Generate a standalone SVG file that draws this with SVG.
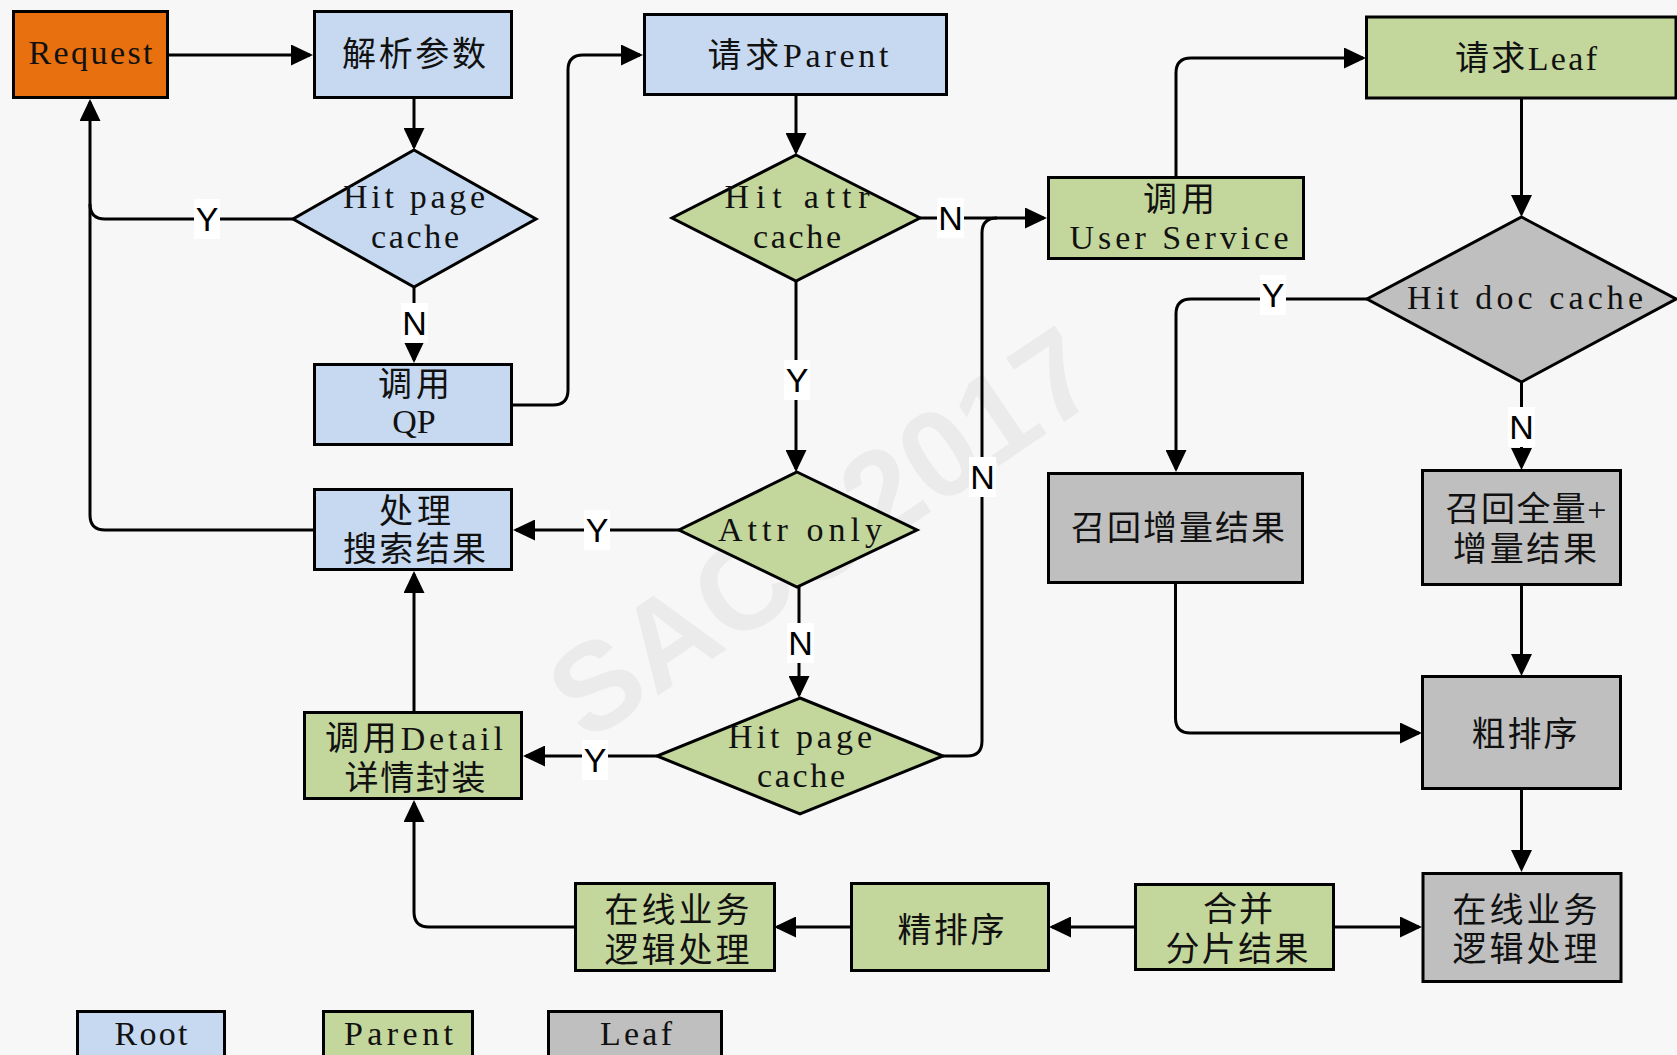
<svg xmlns="http://www.w3.org/2000/svg" width="1677" height="1055" viewBox="0 0 1677 1055">
<style>
.box{stroke:#000;stroke-width:3}
.root{fill:#C6D9F0}
.par{fill:#C3D69B}
.leaf{fill:#BFBFBF}
.req{fill:#E8700E}
.t{font-family:"Liberation Serif","Noto Sans CJK SC",serif;font-size:34px;fill:#111;text-anchor:middle}
.c{fill:none;stroke:#000;stroke-width:3}
.lb{font-family:"Liberation Sans",Arial,sans-serif;font-size:34px;fill:#000;text-anchor:middle}
.lbg{fill:#fff}
.wm{font-family:"Liberation Sans",Arial,sans-serif;font-size:124px;font-weight:bold;fill:#EBEBEB;text-anchor:middle}
</style>
<defs>
<marker id="ah" markerUnits="userSpaceOnUse" markerWidth="22" markerHeight="21" refX="19" refY="10.5" orient="auto"><path d="M0,0 L22,10.5 L0,21 z" fill="#000"/></marker>
</defs>
<rect x="0" y="0" width="1677" height="1055" fill="#F7F7F7"/>
<text class="wm" transform="translate(822,532) rotate(-34)" dy="44">SACC2017</text>

<g id="n-request"><rect class="box req" x="13.5" y="11.5" width="154" height="86"/><text class="t" x="90.5" y="64" textLength="124" lengthAdjust="spacing">Request</text></g>
<g id="n-parse"><rect class="box root" x="314.5" y="11.5" width="197" height="86"/><text class="t" x="414" y="65.5" textLength="144" lengthAdjust="spacing">解析参数</text></g>
<g id="n-hpc1"><polygon class="box root" points="414,150 536,219 414,287 293,219"/><text class="t" x="414" y="208" textLength="142" lengthAdjust="spacing">Hit page</text><text class="t" x="415" y="248" textLength="88" lengthAdjust="spacing">cache</text></g>
<g id="n-qp"><rect class="box root" x="314.5" y="364.5" width="197" height="80"/><text class="t" x="414" y="396" textLength="72" lengthAdjust="spacing">调用</text><text class="t" x="414" y="433">QP</text></g>
<g id="n-result"><rect class="box root" x="314.5" y="489.5" width="197" height="80"/><text class="t" x="415" y="523" textLength="72" lengthAdjust="spacing">处理</text><text class="t" x="414.5" y="561" textLength="143" lengthAdjust="spacing">搜索结果</text></g>
<g id="n-detail"><rect class="box par" x="304.5" y="712.5" width="217" height="86"/><text class="t" x="414" y="750" textLength="178" lengthAdjust="spacing">调用Detail</text><text class="t" x="415" y="790" textLength="141" lengthAdjust="spacing">详情封装</text></g>
<g id="n-parent"><rect class="box root" x="644.5" y="14.5" width="302" height="80"/><text class="t" x="798" y="66.5" textLength="181" lengthAdjust="spacing">请求Parent</text></g>
<g id="n-hac"><polygon class="box par" points="796,155 920,218 796,281 672,218"/><text class="t" x="797" y="208" textLength="145" lengthAdjust="spacing">Hit attr</text><text class="t" x="797" y="248" textLength="88" lengthAdjust="spacing">cache</text></g>
<g id="n-attronly"><polygon class="box par" points="797,472 917,530 797,587 679,530"/><text class="t" x="800" y="541" textLength="164" lengthAdjust="spacing">Attr only</text></g>
<g id="n-hpc2"><polygon class="box par" points="800,698 943,756 800,814 657,756"/><text class="t" x="800" y="748" textLength="144" lengthAdjust="spacing">Hit page</text><text class="t" x="801" y="787" textLength="88" lengthAdjust="spacing">cache</text></g>
<g id="n-usersvc"><rect class="box par" x="1048.5" y="177.5" width="255" height="81"/><text class="t" x="1179" y="211" textLength="72" lengthAdjust="spacing">调用</text><text class="t" x="1179" y="249" textLength="219" lengthAdjust="spacing">User Service</text></g>
<g id="n-leafreq"><rect class="box par" x="1366.5" y="17" width="309.5" height="81"/><text class="t" x="1526" y="69.5" textLength="142" lengthAdjust="spacing">请求Leaf</text></g>
<g id="n-hdc"><polygon class="box leaf" points="1521.5,217 1676,299 1521.5,382 1367,299"/><text class="t" x="1525" y="309" textLength="236" lengthAdjust="spacing">Hit doc cache</text></g>
<g id="n-incr"><rect class="box leaf" x="1048.5" y="473.5" width="254" height="109"/><text class="t" x="1178" y="540" textLength="214" lengthAdjust="spacing">召回增量结果</text></g>
<g id="n-full"><rect class="box leaf" x="1422.5" y="470.5" width="198" height="114"/><text class="t" x="1526" y="521" textLength="161" lengthAdjust="spacing">召回全量+</text><text class="t" x="1525" y="561" textLength="144" lengthAdjust="spacing">增量结果</text></g>
<g id="n-coarse"><rect class="box leaf" x="1422.5" y="676.5" width="198" height="112"/><text class="t" x="1524.5" y="746" textLength="106" lengthAdjust="spacing">粗排序</text></g>
<g id="n-online-leaf"><rect class="box leaf" x="1423" y="873.5" width="198" height="108"/><text class="t" x="1525" y="922" textLength="145" lengthAdjust="spacing">在线业务</text><text class="t" x="1525" y="961" textLength="145" lengthAdjust="spacing">逻辑处理</text></g>
<g id="n-merge"><rect class="box par" x="1135.5" y="884.5" width="198" height="85"/><text class="t" x="1238" y="921" textLength="70" lengthAdjust="spacing">合并</text><text class="t" x="1237" y="961" textLength="143" lengthAdjust="spacing">分片结果</text></g>
<g id="n-fine"><rect class="box par" x="851.5" y="883.5" width="197" height="87"/><text class="t" x="951" y="942" textLength="107" lengthAdjust="spacing">精排序</text></g>
<g id="n-online-parent"><rect class="box par" x="575.5" y="883.5" width="199" height="87"/><text class="t" x="677" y="922" textLength="145" lengthAdjust="spacing">在线业务</text><text class="t" x="677" y="962" textLength="145" lengthAdjust="spacing">逻辑处理</text></g>

<g id="legend-root"><rect class="box root" x="77.5" y="1011.5" width="147" height="50"/><text class="t" x="151" y="1045" textLength="73" lengthAdjust="spacing">Root</text></g>
<g id="legend-parent"><rect class="box par" x="323.5" y="1011.5" width="149" height="50"/><text class="t" x="398.5" y="1045" textLength="109" lengthAdjust="spacing">Parent</text></g>
<g id="legend-leaf"><rect class="box leaf" x="548.5" y="1011.5" width="173" height="50"/><text class="t" x="636" y="1045" textLength="72" lengthAdjust="spacing">Leaf</text></g>

<g id="connectors">
<path class="c" d="M169,55 H310" marker-end="url(#ah)"/>
<path class="c" d="M414,99 V147" marker-end="url(#ah)"/>
<path class="c" d="M293,219 H105 Q90,219 90,204"/>
<path class="c" d="M313,530 H105 Q90,530 90,515 V102" marker-end="url(#ah)"/>
<path class="c" d="M414,287 V360" marker-end="url(#ah)"/>
<path class="c" d="M513,405 H553 Q568,405 568,390 V70 Q568,55 583,55 H640" marker-end="url(#ah)"/>
<path class="c" d="M796,96 V152" marker-end="url(#ah)"/>
<path class="c" d="M920,218 H1044" marker-end="url(#ah)"/>
<path class="c" d="M943,756 H967 Q982,756 982,741 V233 Q982,218 997,218"/>
<path class="c" d="M796,281 V469" marker-end="url(#ah)"/>
<path class="c" d="M679,530 H516" marker-end="url(#ah)"/>
<path class="c" d="M799,587 V695" marker-end="url(#ah)"/>
<path class="c" d="M657,756 H526" marker-end="url(#ah)"/>
<path class="c" d="M414,711 V574" marker-end="url(#ah)"/>
<path class="c" d="M575,927 H429 Q414,927 414,912 V803" marker-end="url(#ah)"/>
<path class="c" d="M850,927 H777" marker-end="url(#ah)"/>
<path class="c" d="M1134,927 H1052" marker-end="url(#ah)"/>
<path class="c" d="M1335,927 H1419" marker-end="url(#ah)"/>
<path class="c" d="M1176,176 V73 Q1176,58 1191,58 H1363" marker-end="url(#ah)"/>
<path class="c" d="M1521.5,99 V214" marker-end="url(#ah)"/>
<path class="c" d="M1367,299 H1191 Q1176,299 1176,314 V469" marker-end="url(#ah)"/>
<path class="c" d="M1521.5,382 V467" marker-end="url(#ah)"/>
<path class="c" d="M1175.5,584 V718 Q1175.5,733 1190.5,733 H1419" marker-end="url(#ah)"/>
<path class="c" d="M1521.5,586 V673" marker-end="url(#ah)"/>
<path class="c" d="M1521.5,789 V869" marker-end="url(#ah)"/>
</g>

<g id="labels">
<rect class="lbg" x="194" y="199" width="26" height="40"/><text class="lb" x="207" y="231">Y</text>
<rect class="lbg" x="401" y="303" width="27" height="40"/><text class="lb" x="414.5" y="335">N</text>
<rect class="lbg" x="937" y="198" width="27" height="40"/><text class="lb" x="950.5" y="230">N</text>
<rect class="lbg" x="784" y="360" width="26" height="40"/><text class="lb" x="797" y="392">Y</text>
<rect class="lbg" x="969" y="457" width="27" height="40"/><text class="lb" x="982.5" y="489">N</text>
<rect class="lbg" x="584" y="510" width="26" height="40"/><text class="lb" x="597" y="542">Y</text>
<rect class="lbg" x="787" y="623" width="27" height="40"/><text class="lb" x="800.5" y="655">N</text>
<rect class="lbg" x="582" y="740" width="26" height="40"/><text class="lb" x="595" y="772">Y</text>
<rect class="lbg" x="1260" y="275" width="26" height="40"/><text class="lb" x="1273" y="307">Y</text>
<rect class="lbg" x="1508" y="407" width="27" height="40"/><text class="lb" x="1521.5" y="439">N</text>
</g>
</svg>
